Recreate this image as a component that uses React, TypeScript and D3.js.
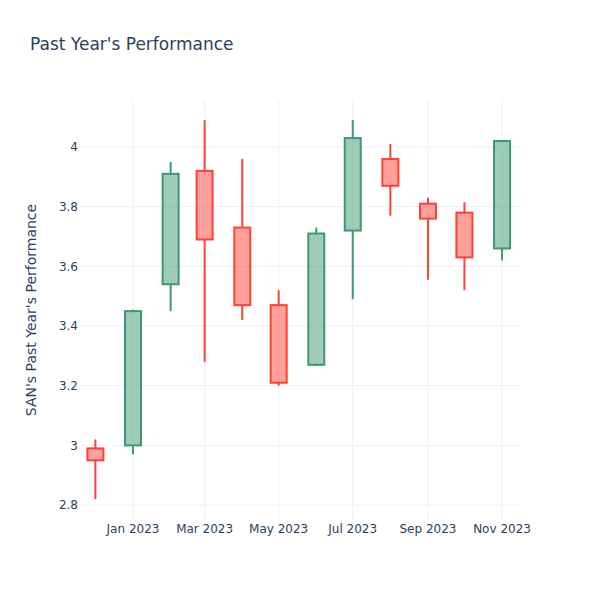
import React from "react";
import * as d3 from "d3";

const dates = ["2022-12-01","2023-01-01","2023-02-01","2023-03-01","2023-04-01","2023-05-01","2023-06-01","2023-07-01","2023-08-01","2023-09-01","2023-10-01","2023-11-01"];
const opens = [2.99, 3.00, 3.54, 3.92, 3.73, 3.47, 3.27, 3.72, 3.96, 3.81, 3.78, 3.66];
const highs = [3.02, 3.455, 3.95, 4.09, 3.96, 3.52, 3.73, 4.09, 4.01, 3.83, 3.815, 4.02];
const lows = [2.82, 2.97, 3.45, 3.28, 3.42, 3.20, 3.265, 3.49, 3.77, 3.555, 3.52, 3.62];
const closes = [2.95, 3.45, 3.91, 3.69, 3.47, 3.21, 3.71, 4.03, 3.87, 3.76, 3.63, 4.02];

const xTickDates = ["2023-01-01","2023-03-01","2023-05-01","2023-07-01","2023-09-01","2023-11-01"];
const yTicks = [2.8, 3, 3.2, 3.4, 3.6, 3.8, 4];

const W = 600, H = 600;
const M = { l: 80, r: 80, t: 100, b: 80 };
const FONT = "'DejaVu Sans', verdana, arial, sans-serif";
const TXT = "#2a3f5f";
const GRID = "#EBF0F8";
const INC = "#3D9970";
const DEC = "#FF4136";

export default function App() {
  const x = d3.scaleUtc()
    .domain([new Date("2022-11-18T08:00:00Z"), new Date("2023-11-15T19:00:00Z")])
    .range([M.l, W - M.r]);
  const y = d3.scaleLinear().domain([2.75, 4.1575]).range([H - M.b, M.t]);
  const fmt = d3.utcFormat("%b %Y");
  const boxW = 16;

  return (
    <svg width={W} height={H} style={{ display: "block", position: "absolute", left: 0, top: 0, background: "#fff" }}>
      <rect x={0} y={0} width={W} height={H} fill="#fff" />
      {xTickDates.map((d) => {
        const px = x(new Date(d + "T00:00:00Z"));
        return <line key={"gx" + d} x1={px} x2={px} y1={M.t} y2={H - M.b} stroke={GRID} strokeWidth={1} />;
      })}
      {yTicks.map((v) => (
        <line key={"gy" + v} x1={M.l} x2={W - M.r} y1={y(v)} y2={y(v)} stroke={GRID} strokeWidth={1} />
      ))}
      {dates.map((d, i) => {
        const cx = x(new Date(d + "T00:00:00Z"));
        const up = closes[i] >= opens[i];
        const col = up ? INC : DEC;
        const top = y(Math.max(opens[i], closes[i]));
        const bot = y(Math.min(opens[i], closes[i]));
        return (
          <g key={"c" + d}>
            <line x1={cx} x2={cx} y1={y(highs[i])} y2={top} stroke={col} strokeWidth={2} />
            <line x1={cx} x2={cx} y1={bot} y2={y(lows[i])} stroke={col} strokeWidth={2} />
            <rect x={cx - boxW / 2} y={top} width={boxW} height={Math.max(bot - top, 0.5)}
              fill={col} fillOpacity={0.5} stroke={col} strokeWidth={2} />
          </g>
        );
      })}
      {yTicks.map((v) => (
        <text key={"ty" + v} x={M.l - 2} y={y(v)} dy="0.35em" textAnchor="end"
          fontFamily={FONT} fontSize={12} fill={TXT}>{d3.format("")(v)}</text>
      ))}
      {xTickDates.map((d) => (
        <text key={"tx" + d} x={x(new Date(d + "T00:00:00Z"))} y={H - M.b + 13} textAnchor="middle"
          fontFamily={FONT} fontSize={12} fill={TXT}>{fmt(new Date(d + "T00:00:00Z"))}</text>
      ))}
      <text x={30} y={50} fontFamily={FONT} fontSize={17} fill={TXT}>Past Year's Performance</text>
      <text transform={`translate(36,${(M.t + H - M.b) / 2}) rotate(-90)`} textAnchor="middle"
        fontFamily={FONT} fontSize={14} fill={TXT}>SAN's Past Year's Performance</text>
    </svg>
  );
}
